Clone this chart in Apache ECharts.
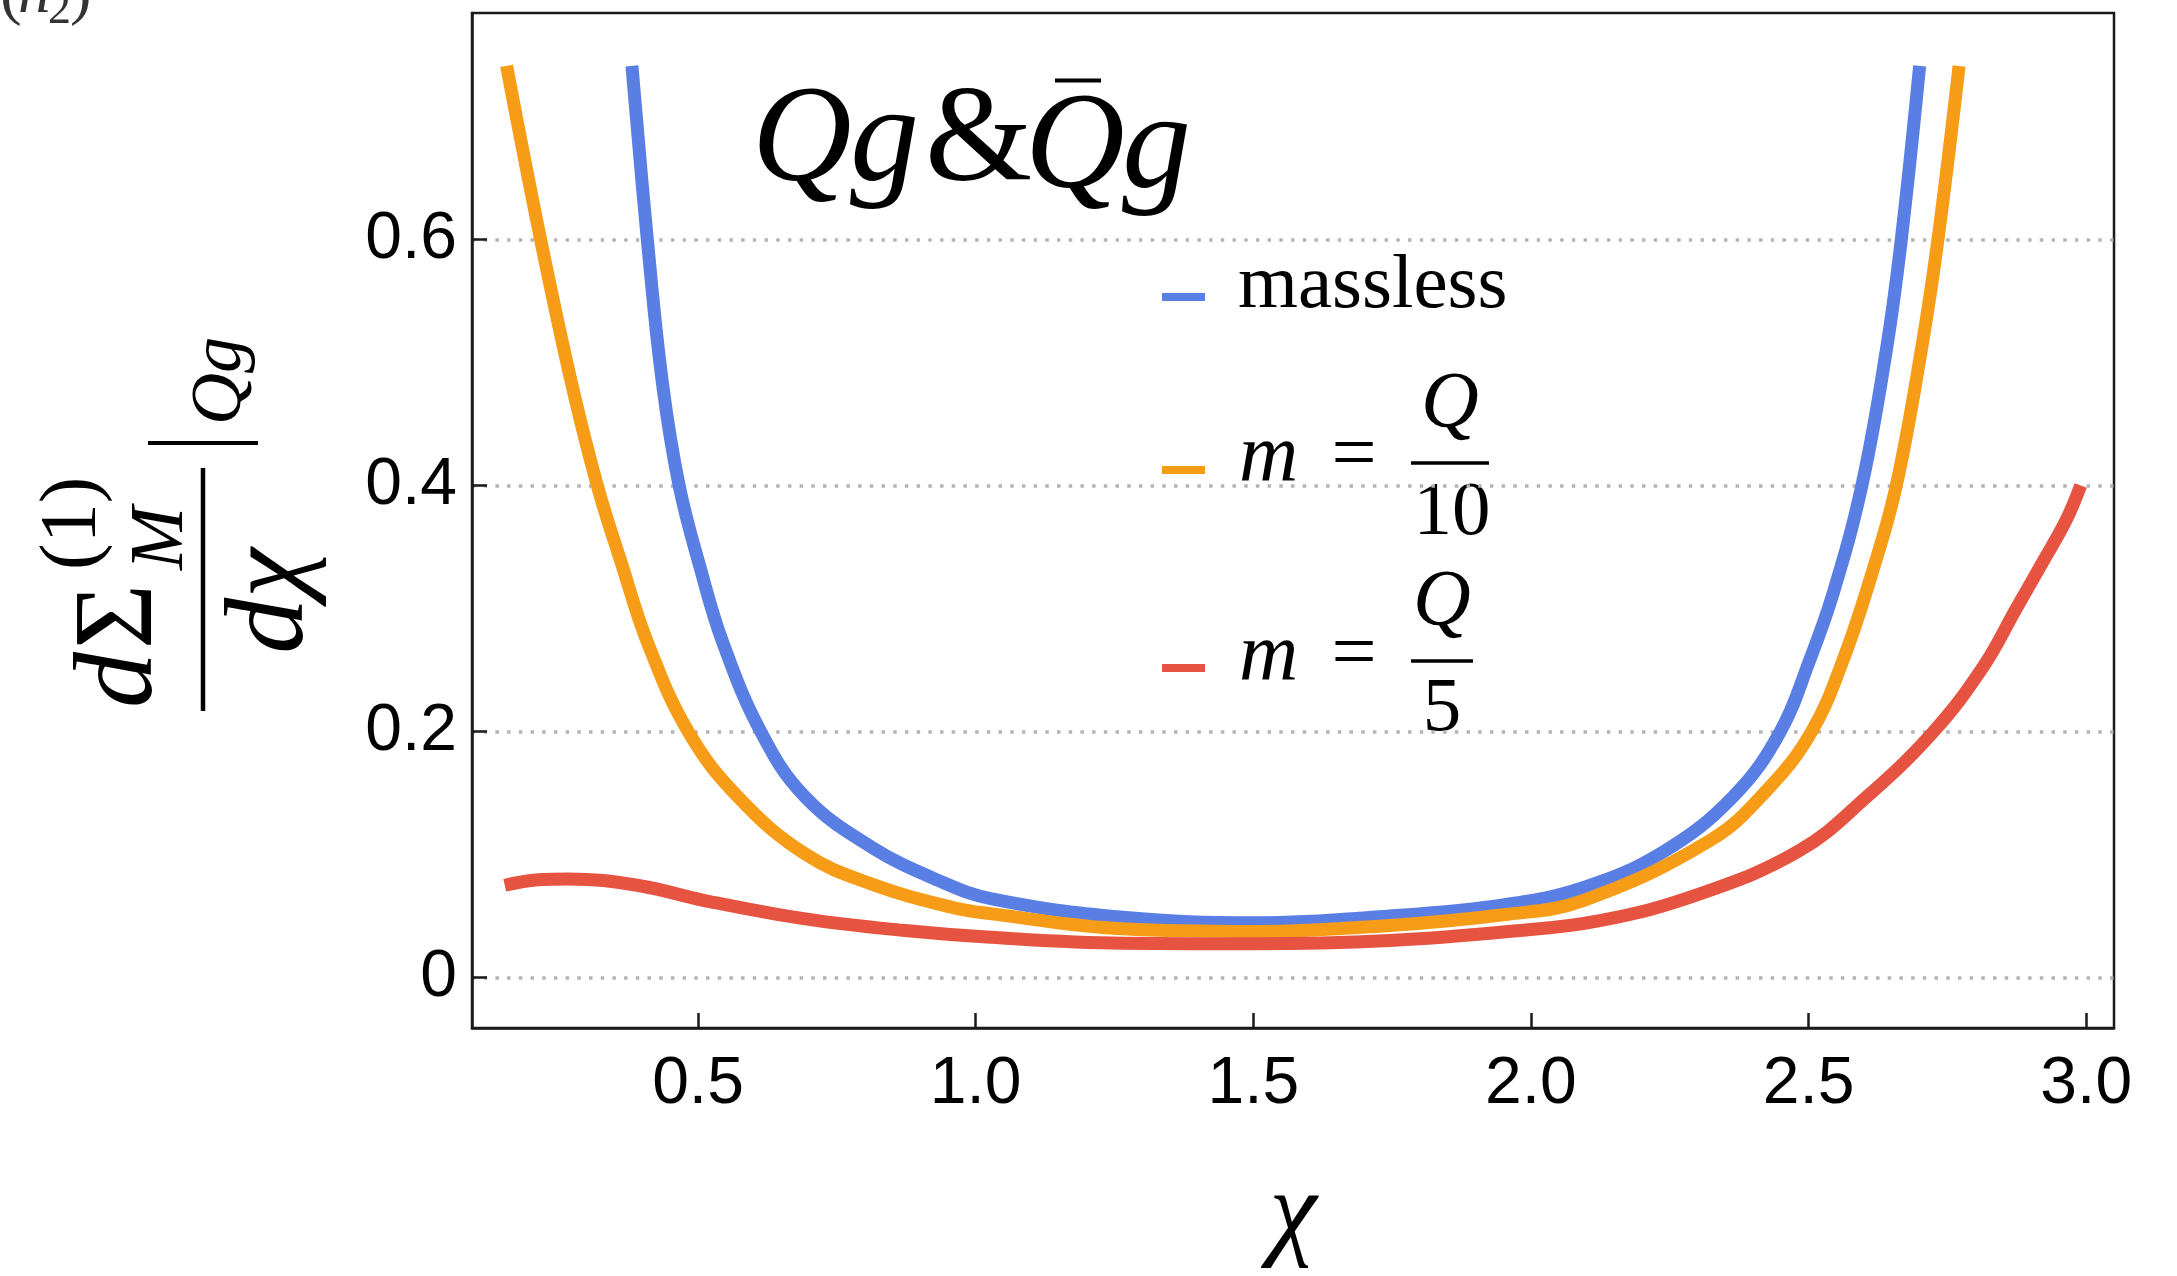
<!DOCTYPE html>
<html>
<head>
<meta charset="utf-8">
<script src="https://cdn.jsdelivr.net/npm/echarts@6/dist/echarts.min.js"></script>
<style>
  html, body { margin: 0; padding: 0; background: #ffffff; }
  #chart { width: 2177px; height: 1276px; }
</style>
</head>
<body>
<div id="chart"></div>
<script>
// Series names (legend order)
const seriesNames = ['massless', 'm = Q/10', 'm = Q/5'];

// massless
const chiMassless = [0.381, 0.4087, 0.436, 0.466, 0.504, 0.5455, 0.614, 0.6925, 0.8127, 0.9327, 1.029, 1.265, 1.505, 1.746, 1.950, 2.094, 2.238, 2.364, 2.448, 2.502, 2.544, 2.596, 2.640, 2.667, 2.700];
const valMassless = [0.741, 0.600, 0.483, 0.400, 0.333, 0.2713, 0.199, 0.147, 0.106, 0.079, 0.064, 0.049, 0.0445, 0.050, 0.059, 0.073, 0.102, 0.147, 0.199, 0.258, 0.312, 0.400, 0.510, 0.600, 0.741];

// m = Q/10
const chiQ10 = [0.1553, 0.2165, 0.2723, 0.3186, 0.362, 0.410, 0.4831, 0.5726, 0.6925, 0.813, 0.9567, 1.029, 1.265, 1.505, 1.746, 1.950, 2.094, 2.3224, 2.4244, 2.5048, 2.5618, 2.6158, 2.658, 2.703, 2.733, 2.771];
const valQ10 = [0.741, 0.600, 0.483, 0.400, 0.337, 0.2713, 0.1994, 0.1466, 0.1006, 0.076, 0.0572, 0.0518, 0.0396, 0.0374, 0.0423, 0.051, 0.0626, 0.1114, 0.152, 0.1994, 0.2577, 0.331, 0.400, 0.510, 0.600, 0.741];

// m = Q/5
const chiQ5 = [0.152, 0.212, 0.266, 0.393, 0.512, 0.693, 0.873, 1.027, 1.265, 1.505, 1.746, 1.950, 2.124, 2.304, 2.484, 2.604, 2.724, 2.814, 2.874, 2.922, 2.964, 2.990];
const valQ5 = [0.075, 0.0795, 0.0802, 0.0748, 0.0626, 0.0477, 0.0382, 0.0327, 0.0279, 0.0274, 0.0301, 0.0370, 0.0463, 0.068, 0.1033, 0.1466, 0.1994, 0.2523, 0.300, 0.338, 0.372, 0.400];

// Axis tick values
const xTicks = [0.5, 1.0, 1.5, 2.0, 2.5, 3.0];
const yTicks = [0, 0.2, 0.4, 0.6];

const colors = ['#5a7fe4', '#f69c16', '#e75341'];

const pairs = (xs, ys) => xs.map((x, i) => [x, ys[i]]);

const serifI = (size) => 'italic ' + size + 'px "Liberation Serif", "DejaVu Serif", serif';
const serifR = (size) => size + 'px "Liberation Serif", "DejaVu Serif", serif';

function txt(text, x, y, font, align, fill) {
  return {
    type: 'text', x: x, y: y, silent: true,
    style: { text: text, font: font, fill: fill || '#000', align: align || 'left', verticalAlign: 'middle' }
  };
}
function bar(x1, y1, x2, y2, w) {
  return { type: 'line', silent: true, shape: { x1: x1, y1: y1, x2: x2, y2: y2 }, style: { stroke: '#000', lineWidth: w || 4 } };
}

const chart = echarts.init(document.getElementById('chart'), null, { renderer: 'canvas' });

const lineSeries = [pairs(chiMassless, valMassless), pairs(chiQ10, valQ10), pairs(chiQ5, valQ5)].map((d, i) => ({
  name: seriesNames[i],
  type: 'line',
  data: d,
  showSymbol: false,
  smooth: 0.4,
  color: colors[i],
  lineStyle: { color: colors[i], width: 13, cap: 'butt', join: 'round' },
  emphasis: { disabled: true },
  z: 2 + i
}));

const legendBase = {
  orient: 'vertical', left: 1162, padding: 0, icon: 'rect',
  itemWidth: 43, itemHeight: 8, selectedMode: false,
  formatter: () => '',
  textStyle: { fontSize: 8, lineHeight: 8 }
};

const option = {
  backgroundColor: '#ffffff',
  animation: false,
  grid: {
    left: 472, right: 63, top: 13, bottom: 248,
    show: true, borderColor: '#1a1a1a', borderWidth: 2.5, backgroundColor: 'transparent'
  },
  legend: [
    Object.assign({}, legendBase, { data: [seriesNames[0]], top: 293 }),
    Object.assign({}, legendBase, { data: [seriesNames[1]], top: 466 }),
    Object.assign({}, legendBase, { data: [seriesNames[2]], top: 664 })
  ],
  xAxis: {
    type: 'value', min: 0.093, max: 3.05,
    name: 'χ', nameLocation: 'middle', nameGap: 135,
    nameTextStyle: { fontFamily: '"Liberation Serif", serif', fontStyle: 'italic', fontSize: 107, color: '#000' },
    axisLine: { show: true, onZero: false, lineStyle: { color: '#1a1a1a', width: 2.5 } },
    axisTick: { show: true, inside: true, length: 15, lineStyle: { color: '#1a1a1a', width: 2.5 }, customValues: xTicks },
    axisLabel: { customValues: xTicks, formatter: (v) => v.toFixed(1), fontFamily: '"Liberation Sans", Arial, sans-serif', fontSize: 66, color: '#000', margin: 24 },
    splitLine: { show: false }
  },
  yAxis: {
    type: 'value', min: -0.041, max: 0.784,
    axisLine: { show: true, onZero: false, lineStyle: { color: '#1a1a1a', width: 2.5 } },
    axisTick: { show: true, inside: true, length: 15, lineStyle: { color: '#1a1a1a', width: 2.5 }, customValues: yTicks },
    axisLabel: { customValues: yTicks, formatter: (v) => (v === 0 ? '0' : v.toFixed(1)), fontFamily: '"Liberation Sans", Arial, sans-serif', fontSize: 66, color: '#000', margin: 15 },
    splitLine: { show: true, lineStyle: { color: '#b4b4b4', width: 3.5, type: [3.5, 8.2] } }
  },
  series: lineSeries,
  graphic: {
    elements: [
      // clipped caption fragment at the page corner
      txt('(', 0, -5, serifR(65), 'left', '#333'),
      txt('n', 18, -5, serifI(65), 'left', '#333'),
      txt('2', 48, 11, serifR(46), 'left', '#333'),
      txt(')', 70, -5, serifR(65), 'left', '#333'),

      // panel title  Qg & Q̄g
      txt('Q', 752, 144, serifI(138)),
      txt('g', 850, 144, serifI(138)),
      txt('&', 925, 144, serifR(138)),
      txt('Q', 1025, 151, serifI(138)),
      bar(1055, 80.5, 1101, 80.5, 4),
      txt('g', 1122, 151, serifI(138)),

      // legend labels
      txt('massless', 1238, 287, serifR(77)),
      txt('m', 1239, 458, serifI(82)),
      txt('=', 1354, 458, serifR(80), 'center'),
      txt('Q', 1450, 406, serifI(80), 'center'),
      bar(1411, 463, 1489, 463, 3.5),
      txt('10', 1452, 514, serifR(77), 'center'),
      txt('m', 1239, 657, serifI(82)),
      txt('=', 1354, 657, serifR(80), 'center'),
      txt('Q', 1442, 604, serifI(80), 'center'),
      bar(1411, 661, 1473, 661, 3.5),
      txt('5', 1442, 710, serifR(77), 'center'),

      // y-axis title: dΣ_M^(1)/dχ |_Qg, rotated to read upwards
      {
        type: 'group', x: 203, y: 711, rotation: Math.PI / 2, silent: true,
        children: [
          bar(0, 0, 243, 0, 4.5),
          txt('d', 3, -81, serifI(112)),
          txt('Σ', 62, -81, serifR(112)),
          txt('(1)', 141, -129, serifR(80)),
          txt('M', 141, -41, serifI(76)),
          txt('dχ', 110, 70, serifI(112), 'center'),
          bar(268, -55, 268, 55, 4),
          txt('Qg', 286, 18, serifI(72))
        ]
      }
    ]
  }
};

chart.setOption(option);
</script>
</body>
</html>
